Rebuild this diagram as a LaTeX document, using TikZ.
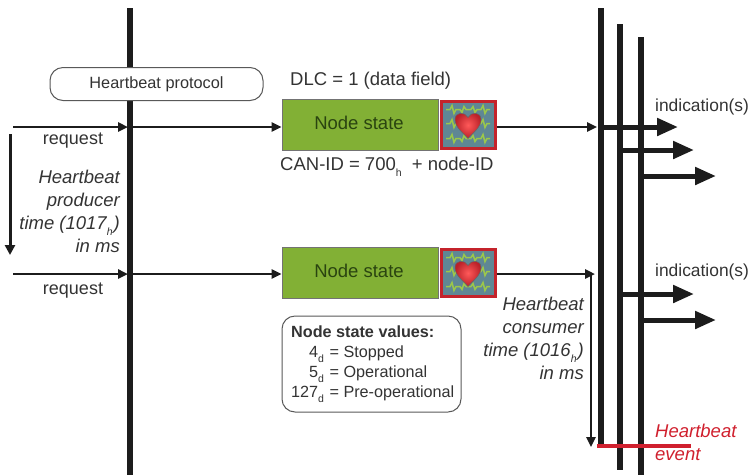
\documentclass[tikz,border=0pt]{standalone}
\usepackage{fontspec}
\setmainfont{Liberation Sans}
\usetikzlibrary{arrows.meta}
\definecolor{ink}{HTML}{1C1C1C}
\definecolor{soft}{HTML}{333333}
\definecolor{leaf}{HTML}{82B035}
\definecolor{leaftext}{HTML}{2A4410}
\definecolor{framered}{HTML}{C4232B}
\definecolor{evred}{HTML}{D0202E}
\definecolor{ecgbg}{HTML}{5F8795}
\definecolor{ecg}{HTML}{9CC84A}
\newcommand\lowtxt[1]{\raisebox{-5.5pt}{\fontsize{10.5}{10}\selectfont #1}\kern1pt}
\newcommand\heartbadge[2]{%
  \begin{scope}[shift={(#1,#2)}]
    \foreach \yy in {-15,-1,14}{
      \draw[ecg,line width=1.5pt] (-22,\yy) -- (-18,\yy) -- (-16,\yy-4) -- (-14,\yy+4) -- (-12,\yy) -- (-8,\yy) -- (-6,\yy+3) -- (-4,\yy-3) -- (-2,\yy) -- (3,\yy) -- (5,\yy-3) -- (7,\yy+3) -- (9,\yy) -- (13,\yy) -- (15,\yy-4) -- (17,\yy+4) -- (19,\yy) -- (22,\yy);
    }
    \draw[black!60,line width=.5pt,shade,inner color=red!65!white,outer color=framered!95!black]
      (0,14) .. controls (-5,8) and (-13,3) .. (-13,-5)
      .. controls (-13,-13) and (-3,-13) .. (0,-7)
      .. controls (3,-13) and (13,-13) .. (13,-5)
      .. controls (13,3) and (5,8) .. (0,14) -- cycle;
  \end{scope}}
\tikzset{
  bar/.style={line width=6pt,ink},
  thinarrow/.style={line width=2.4pt,ink,-{Triangle[length=10pt,width=9pt]}},
  fatarrow/.style={line width=5pt,ink,-{Triangle[length=21pt,width=17pt]}},
  statebox/.style={draw=black!55,line width=.8pt,fill=leaf,text=leaftext,minimum width=156pt,minimum height=51pt,inner sep=0pt},
  badge/.style={draw=framered,line width=3pt,fill=ecgbg,minimum width=54pt,minimum height=47pt,inner sep=0pt},
  lbl/.style={text=soft,inner sep=0pt,font=\fontsize{18.5}{18.5}\selectfont},
  ilbl/.style={text=soft,inner sep=0pt,align=right,font=\fontsize{18.5}{23}\selectfont\itshape},
  roundbox/.style={draw=black!65,line width=1pt,rounded corners=13pt,fill=white,inner sep=0pt}
}
\begin{document}
\begin{tikzpicture}[x=1pt,y=-1pt]
\useasboundingbox (0,0) rectangle (750,475);
% bars
\coordinate (m0) at (130,8); \coordinate (m1) at (130,475);
\coordinate (a0) at (601,8); \coordinate (a1) at (601,447);
\coordinate (b0) at (620,24); \coordinate (b1) at (620,470);
\coordinate (c0) at (641,37); \coordinate (c1) at (641,475);
\draw[bar] (m0) -- (m1);
\draw[bar] (a0) -- (a1);
\draw[bar] (b0) -- (b1);
\draw[bar] (c0) -- (c1);
% protocol
\node[roundbox,minimum width=213pt,minimum height=33pt,text=soft,font=\fontsize{16.3}{16.3}\selectfont] (proto) at (156.5,84) {Heartbeat protocol};
% frames
\node[statebox] (state1) at (360,124.5) {};
\node[lbl,text=leaftext] (st1) at (359,123) {Node state};
\node[badge] (hb1) at (468,124.5) {};
\heartbadge{468}{124.5}
\node[statebox] (state2) at (360,272.5) {};
\node[lbl,text=leaftext] (st2) at (359,271) {Node state};
\node[badge] (hb2) at (468,272.5) {};
\heartbadge{468}{272.5}
\node[lbl,anchor=west] (dlc) at (290,81) {DLC = 1 (data field)};
\node[lbl,anchor=west] (can) at (280,167) {CAN-ID = 700\lowtxt{h}\kern4pt{} + node-ID};
% left
\coordinate (r1s) at (13,127); \coordinate (r1a) at (128,127); \coordinate (r1b) at (133,127);
\coordinate (r2s) at (13,274); \coordinate (r2a) at (128,274); \coordinate (r2b) at (133,274);
\draw[thinarrow] (r1s) -- (r1a);
\draw[thinarrow] (r2s) -- (r2a);
\draw[thinarrow] (r1b) -- (r1b -| state1.west);
\draw[thinarrow] (r2b) -- (r2b -| state2.west);
\node[lbl,font=\fontsize{18}{18}\selectfont] (req1) at (73,141) {request};
\node[lbl,font=\fontsize{18}{18}\selectfont] (req2) at (73,291) {request};
\coordinate (t0) at (10,134); \coordinate (t1) at (10,255);
\draw[line width=3pt,ink,-{Triangle[length=10pt,width=10pt]}] (t0) -- (t1);
\node[ilbl,anchor=north east] (prod) at (120,170) {Heartbeat\\producer\\time (1017\lowtxt{h})\\in ms};
% right of frame 1
\coordinate (o1) at (597,127); \coordinate (o2) at (595,274);
\draw[thinarrow] (o1 -| hb1.east) -- (o1);
\draw[thinarrow] (o2 -| hb2.east) -- (o2);
\coordinate (i1) at (601,127); \coordinate (i1e) at (678,127);
\coordinate (i2) at (620,150); \coordinate (i2e) at (694,150);
\coordinate (i3) at (641,176); \coordinate (i3e) at (716,176);
\coordinate (i4) at (620,294); \coordinate (i4e) at (694,294);
\coordinate (i5) at (641,320); \coordinate (i5e) at (716,320);
\draw[fatarrow] (i1) -- (i1e);
\draw[fatarrow] (i2) -- (i2e);
\draw[fatarrow] (i3) -- (i3e);
\draw[fatarrow] (i4) -- (i4e);
\draw[fatarrow] (i5) -- (i5e);
\node[lbl,anchor=west,font=\fontsize{17.4}{17.4}\selectfont] (ind1) at (655,107) {indication(s)};
\node[lbl,anchor=west,font=\fontsize{17.4}{17.4}\selectfont] (ind2) at (655,272) {indication(s)};
% consumer
\coordinate (k0) at (591,274); \coordinate (k1) at (591,447);
\draw[line width=2.4pt,ink,-{Triangle[length=10pt,width=9pt]}] (k0) -- (k1);
\node[ilbl,anchor=north east] (cons) at (584,297) {Heartbeat\\consumer\\time (1016\lowtxt{h})\\in ms};
% event
\coordinate (e0) at (597,446); \coordinate (e1) at (691,446);
\draw[evred,line width=4.5pt] (e0) -- (e1);
\node[ilbl,anchor=north west,align=left,text=evred] (evt) at (655,424) {Heartbeat\\event};
% values
\node[roundbox,minimum width=179pt,minimum height=96pt] (vals) at (371.5,364) {};
\node[inner sep=0pt,anchor=north west,text=soft,font=\fontsize{16.2}{20}\selectfont] (valtxt) at (291,323) {%
  \setlength{\tabcolsep}{0pt}\renewcommand{\arraystretch}{1}%
  \begin{tabular}{@{}r@{}l@{}}
  \multicolumn{2}{@{}l@{}}{\textbf{Node state values:}}\\
  4\lowtxt{d} & {} = Stopped\\
  5\lowtxt{d} & {} = Operational\\
  127\lowtxt{d} & {} = Pre-operational
  \end{tabular}};
\end{tikzpicture}
\end{document}
